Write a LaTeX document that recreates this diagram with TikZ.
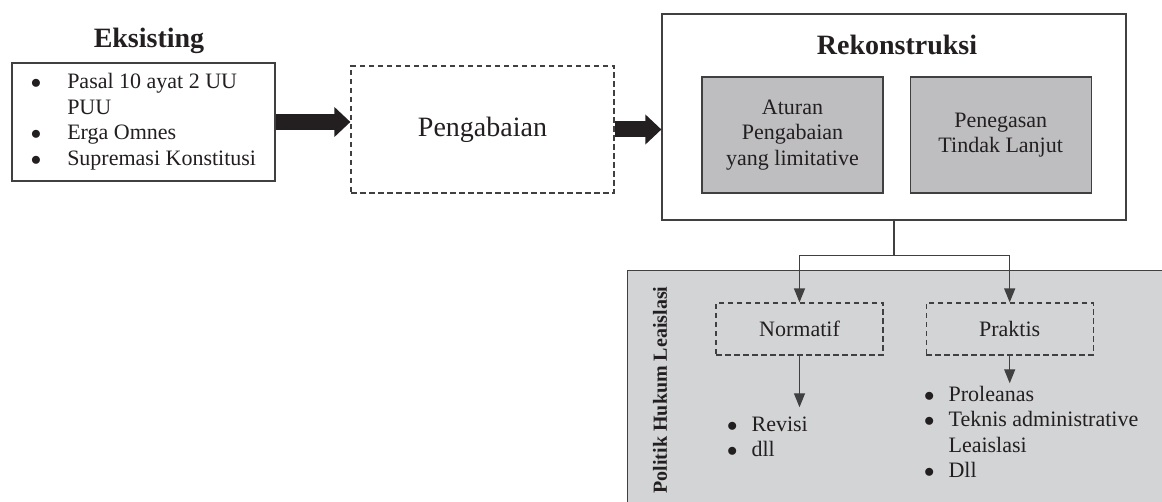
\documentclass[tikz,border=0pt]{standalone}
\usepackage{fontspec}
\setmainfont{Liberation Serif}
\usetikzlibrary{positioning, arrows.meta}
\definecolor{ink}{RGB}{35,31,32}
\definecolor{frame}{RGB}{64,64,64}
\definecolor{boxgray}{RGB}{190,190,192}
\definecolor{panelgray}{RGB}{211,212,214}
\newcommand{\listdot}{$\bullet$}

\begin{document}
\begin{tikzpicture}[
    x=1pt, y=-1pt,
    font=\fontsize{22}{25.5}\selectfont, text=ink,
    headline/.style={font=\fontsize{28}{32}\selectfont\bfseries},
    solidbox/.style={rectangle, draw=frame, line width=1.2pt, fill=white},
    dashbox/.style={rectangle, draw=frame, line width=1.2pt, dash pattern=on 5.5pt off 3.5pt, minimum width=167pt, minimum height=52pt},
    graybox/.style={rectangle, draw=frame, line width=1.2pt, fill=boxgray, minimum width=181pt, minimum height=116pt, align=center},
    panel/.style={rectangle, draw=frame, line width=1.2pt, fill=panelgray, inner sep=0pt},
    bulletlist/.style={inner sep=0pt, anchor=west},
    blockarrow/.style={draw=ink, line width=16pt, -{Triangle[length=16pt, width=29pt]}},
    flow/.style={draw=frame, line width=1.3pt, -{Triangle[length=14pt, width=11pt]}},
    wire/.style={draw=frame, line width=1.3pt}
  ]
    \useasboundingbox (0,0) rectangle (1162,502);

    % Panel
    \node[panel, anchor=north west, minimum width=540pt, minimum height=240pt] (panel) at (627,270) {};
    \node[rotate=90, font=\fontsize{20}{24}\selectfont\bfseries] (plabel) at (660,390) {Politik Hukum Leaislasi};

    % Nodes
    \node[headline] (t1) at (149,41) {Eksisting};
    \node[solidbox, minimum width=263pt, minimum height=118pt] (exist) at (143.5,122) {%
      \begin{tabular}{@{}l@{\hspace{26pt}}l@{}}
        \listdot & Pasal 10 ayat 2 UU\\
                 & PUU\\
        \listdot & Erga Omnes\\
        \listdot & Supremasi Konstitusi
      \end{tabular}};
    \node[dashbox, minimum width=263pt, minimum height=127pt, font=\fontsize{28}{32}\selectfont] (abai) at (482.5,129.5) {Pengabaian};
    \node[solidbox, minimum width=464pt, minimum height=206pt] (rekon) at (894,117) {};
    \node[headline] (t2) at (897,45) {Rekonstruksi};
    \node[graybox] (aturan) at (792.5,135) {Aturan\\Pengabaian\\yang limitative};
    \node[graybox, right=26pt of aturan] (tegas) {Penegasan\\Tindak Lanjut};
    \node[dashbox] (normatif) at (799.5,329) {Normatif};
    \node[dashbox, right=42pt of normatif] (praktis) {Praktis};
    \node[bulletlist] (revlist) at (727,439) {%
      \begin{tabular}{@{}l@{\hspace{14pt}}l@{}}
        \listdot & Revisi\\
        \listdot & dll
      \end{tabular}};
    \node[bulletlist] (praklist) at (924,434.5) {%
      \begin{tabular}{@{}l@{\hspace{14pt}}l@{}}
        \listdot & Proleanas\\
        \listdot & Teknis administrative\\
                 & Leaislasi\\
        \listdot & Dll
      \end{tabular}};

    % Edges
    \draw[blockarrow] (exist.east) -- (exist.east -| abai.west);
    \draw[blockarrow] (abai.east) -- (abai.east -| rekon.west);
    \draw[wire] (rekon.south) -- ++(0,35) coordinate (split);
    \draw[flow] (split) -| (normatif.north);
    \draw[flow] (split) -| (praktis.north);
    \draw[flow, shorten >=6pt] (normatif.south) -- (normatif.south |- revlist.north);
    \draw[flow] (praktis.south) -- (praktis.south |- praklist.north);
\end{tikzpicture}
\end{document}
